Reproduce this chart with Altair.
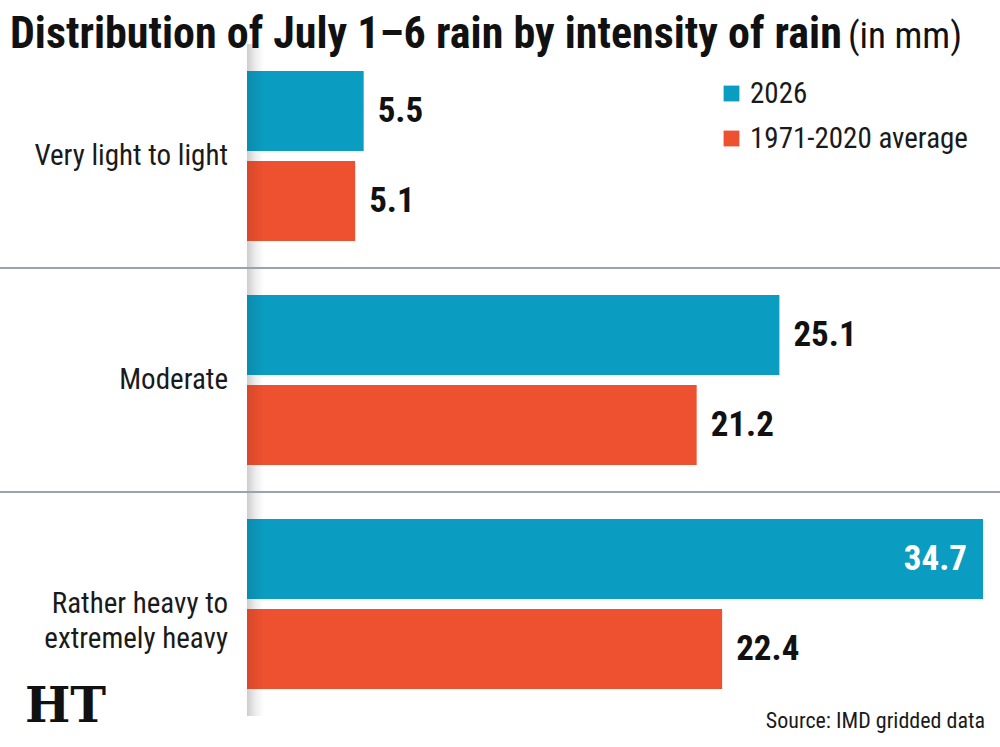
import altair as alt
import pandas as pd

# Rain amounts (mm) for July 1-6, by intensity class
categories = ["Very light to light", "Moderate", "Rather heavy to extremely heavy"]
category_labels = ["Very light to light", "Moderate", "Rather heavy to|extremely heavy"]
series = ["2026", "1971-2020 average"]
values_2026 = [5.5, 25.1, 34.7]
values_avg = [5.1, 21.2, 22.4]

BLUE = "#0b9cc1"
RED = "#ee512f"
FONT = ("Noto Sans ExtraCondensed, Noto Sans Condensed, Roboto Condensed, "
        "Liberation Sans Narrow, DejaVu Sans Condensed, sans-serif")

PLOT_H = 672
BAND = PLOT_H / len(categories)

rows = []
for i, cat in enumerate(categories):
    for s, vals in zip(series, [values_2026, values_avg]):
        rows.append({
            "cat": cat,
            "cat_label": category_labels[i],
            "series": s,
            "value": vals[i],
            "label": f"{vals[i]:.1f}",
            "inside": vals[i] >= 30,
            "first": i == 0,
        })
df = pd.DataFrame(rows)

y_enc = alt.Y("cat:N", sort=categories, axis=None,
              scale=alt.Scale(paddingInner=0, paddingOuter=0))
yoff_enc = alt.YOffset("series:N", sort=series,
                       scale=alt.Scale(paddingInner=0.111, paddingOuter=0.3))
x_enc = alt.X("value:Q", axis=None,
              scale=alt.Scale(domain=[0, 35.5], nice=False, zero=True))

base = alt.Chart(df)
single = base.transform_filter("datum.first && datum.series == '2026'")
per_cat = base.transform_filter("datum.series == '2026'")

# soft shadow strip along the bar baseline (one band per category)
shade = per_cat.mark_rect(
    color=alt.LinearGradient(
        gradient="linear", x1=0, x2=1, y1=0, y2=0,
        stops=[
            alt.GradientStop(color="rgba(0,0,0,0.20)", offset=0),
            alt.GradientStop(color="rgba(0,0,0,0.07)", offset=0.5),
            alt.GradientStop(color="rgba(0,0,0,0)", offset=1),
        ],
    )
).encode(y=y_enc, x=alt.value(0), x2=alt.value(17))

bars = base.mark_bar().encode(
    x=x_enc, y=y_enc, yOffset=yoff_enc,
    color=alt.Color(
        "series:N", sort=series,
        scale=alt.Scale(domain=series, range=[BLUE, RED]),
        legend=alt.Legend(
            orient="none", legendX=470, legendY=35, title=None,
            symbolType="square", symbolSize=250,
            labelFont=FONT, labelFontSize=29, labelColor="#1a1a1a",
            labelOffset=4, rowPadding=15, labelLimit=400,
        ),
    ),
)

# thin overlay so the bar starts pick up the same shadow
bar_shade = base.mark_bar(
    color=alt.LinearGradient(
        gradient="linear", x1=0, x2=1, y1=0, y2=0,
        stops=[
            alt.GradientStop(color="rgba(0,0,0,0.10)", offset=0),
            alt.GradientStop(color="rgba(0,0,0,0)", offset=1),
        ],
    )
).encode(y=y_enc, yOffset=yoff_enc, x=alt.value(0), x2=alt.value(17))

values_out = base.transform_filter("!datum.inside").mark_text(
    align="left", baseline="middle", dx=14, font=FONT, fontSize=35,
    fontWeight="bold", color="#111111",
).encode(x=x_enc, y=y_enc, yOffset=yoff_enc, text="label:N")

values_in = base.transform_filter("datum.inside").mark_text(
    align="right", baseline="middle", dx=-16, font=FONT, fontSize=35,
    fontWeight="bold", color="white",
).encode(x=x_enc, y=y_enc, yOffset=yoff_enc, text="label:N")

# separators sit at the top edge of every band after the first
separators = base.transform_filter(
    "!datum.first && datum.series == '2026'"
).mark_rule(color="#9aa3ad", strokeWidth=2, yOffset=-BAND / 2).encode(
    y=y_enc, x=alt.value(-247), x2=alt.value(753),
)

cat_text = per_cat.mark_text(
    align="right", baseline="middle", font=FONT, fontSize=29,
    color="#1a1a1a", lineBreak="|", lineHeight=35,
).encode(y=y_enc, x=alt.value(-19), text="cat_label:N")

title_bold = single.mark_text(
    align="left", baseline="alphabetic", font=FONT, fontSize=44,
    fontWeight="bold", color="#111111",
).encode(x=alt.value(-237), y=alt.value(4),
         text=alt.value("Distribution of July 1–6 rain by intensity of rain"))
title_unit = single.mark_text(
    align="right", baseline="alphabetic", font=FONT, fontSize=37,
    color="#111111",
).encode(x=alt.value(715), y=alt.value(4), text=alt.value("(in mm)"))

source = single.mark_text(
    align="right", baseline="alphabetic", font=FONT, fontSize=22,
    color="#1a1a1a",
).encode(x=alt.value(738), y=alt.value(684), text=alt.value("Source: IMD gridded data"))

logo = single.mark_text(
    align="left", baseline="alphabetic", font="DejaVu Serif", fontSize=48,
    fontWeight="bold", color="#111111",
).encode(x=alt.value(-222), y=alt.value(678), text=alt.value("HT"))

chart = alt.layer(
    shade, bars, bar_shade, separators, values_out, values_in, cat_text,
    title_bold, title_unit, source, logo,
).properties(
    width=753, height=PLOT_H,
    autosize=alt.AutoSizeParams(type="none"),
    padding={"left": 247, "top": 44, "right": 0, "bottom": 31},
    background="white",
).configure_view(stroke=None)

chart.save("out.html", embed_options={"renderer": "svg", "actions": False})
